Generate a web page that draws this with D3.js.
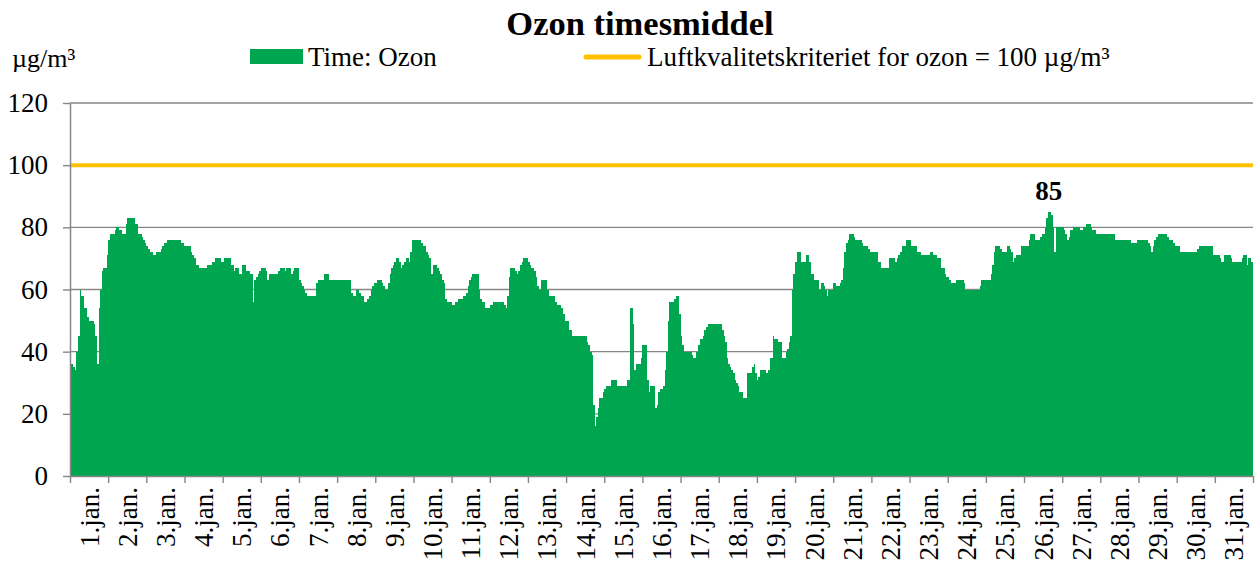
<!DOCTYPE html>
<html>
<head>
<meta charset="utf-8">
<script src="https://cdn.jsdelivr.net/npm/d3@7/dist/d3.min.js"></script>
<style>
  body { margin: 0; background: #fff; }
  text { font-family: "Liberation Serif", "Times New Roman", serif; fill: #000; }
</style>
</head>
<body>
<svg id="chart" width="1255" height="564"></svg>
<script>
// hourly ozone, one array per day (24 values, µg/m³)
const jan01 = [36,36,35,34,40,45,60,58,58,54,54,51,50,50,50,49,45,36,54,60,66,67,67,71];
const jan02 = [76,78,78,78,79,80,80,79,79,78,78,81,83,83,83,83,83,81,81,78,78,77,76,75];
const jan03 = [74,73,72,72,71,71,72,72,72,73,74,75,75,76,76,76,76,76,76,76,76,76,75,75];
const jan04 = [74,74,74,74,72,71,70,68,68,67,67,67,67,67,68,68,68,69,69,70,70,70,70,69];
const jan05 = [69,70,70,70,70,68,68,66,67,67,65,65,68,68,68,66,66,65,65,56,63,64,65,66];
const jan06 = [67,67,67,66,63,65,65,65,65,65,65,66,67,67,67,66,67,67,67,65,66,67,67,67];
const jan07 = [63,62,61,60,59,58,58,58,58,58,58,62,63,63,63,63,65,65,65,63,63,63,63,63];
const jan08 = [63,63,63,63,63,63,63,63,63,59,58,58,60,60,59,58,58,56,56,57,58,60,61,62];
const jan09 = [62,63,63,63,62,61,60,60,62,65,67,68,69,70,70,69,67,68,69,70,70,69,72,76];
const jan10 = [76,76,76,76,76,75,74,74,72,71,70,65,68,68,68,67,66,65,63,62,57,56,56,56];
const jan11 = [55,55,56,56,57,57,57,58,58,59,61,63,64,65,65,65,65,60,57,56,56,54,54,54];
const jan12 = [55,55,56,56,56,56,56,56,56,55,54,58,64,67,67,67,66,65,66,68,69,70,70,70];
const jan13 = [69,68,67,67,66,64,61,60,63,63,63,63,60,58,58,58,58,56,55,55,55,54,52,50];
const jan14 = [50,50,47,47,45,45,45,45,45,45,45,45,45,43,42,40,39,23,16,19,22,25,25,27];
const jan15 = [28,29,29,29,31,31,31,31,29,29,29,29,29,29,31,31,54,54,49,34,36,36,36,38];
const jan16 = [42,42,42,31,27,29,29,29,22,23,27,28,28,29,34,40,50,56,56,56,57,58,58,52];
const jan17 = [45,42,40,40,40,40,40,39,38,38,40,42,44,44,45,47,48,49,49,49,49,49,49,49];
const jan18 = [49,49,47,45,43,38,36,35,34,33,31,30,29,27,27,25,25,25,33,33,33,35,36,33];
const jan19 = [31,32,34,34,34,34,33,34,38,38,45,44,44,43,43,43,38,38,40,41,43,45,60,65];
const jan20 = [69,72,72,72,69,69,69,71,71,69,65,65,63,63,63,60,62,62,61,60,58,60,60,60];
const jan21 = [62,62,61,61,62,63,67,72,75,76,78,78,78,77,76,76,76,76,75,74,74,74,73,72];
const jan22 = [72,72,72,72,69,69,67,67,67,67,67,70,70,70,70,69,70,71,72,74,74,74,76,76];
const jan23 = [76,74,74,74,74,72,72,71,71,71,71,71,71,72,72,71,71,70,70,70,67,67,65,64];
const jan24 = [64,63,62,62,62,63,63,63,63,63,62,60,60,60,60,60,60,60,60,60,61,63,63,63];
const jan25 = [63,63,63,65,68,72,74,74,74,73,72,72,72,74,74,73,72,69,70,71,71,71,74,74];
const jan26 = [74,74,74,76,78,78,78,76,76,76,77,78,78,80,83,85,85,84,80,72,80,80,80,80];
const jan27 = [80,79,78,76,77,79,79,80,80,80,80,79,79,80,80,81,81,81,80,79,79,78,78,78];
const jan28 = [78,78,78,78,78,78,78,78,78,76,76,76,76,76,76,76,76,76,76,75,75,75,75,76];
const jan29 = [76,76,76,76,76,76,75,74,72,74,76,77,78,78,78,78,78,78,77,76,76,76,75,74];
const jan30 = [74,74,72,72,72,72,72,72,72,72,72,72,72,73,74,74,74,74,74,74,74,74,74,71];
const jan31 = [71,71,71,70,69,69,71,71,71,71,70,69,69,69,69,69,69,70,71,71,68,70,70,69];

const dayLabels = d3.range(1, 32).map(d => d + ".jan.");
const yTicks = [0, 20, 40, 60, 80, 100, 120];
const limitValue = 100;

const titleText = "Ozon timesmiddel";
const unitText = "µg/m³";
const seriesName = "Time: Ozon";
const limitName = "Luftkvalitetskriteriet for ozon = 100 µg/m³";

const hourly = [].concat(jan01, jan02, jan03, jan04, jan05, jan06, jan07, jan08, jan09, jan10,
  jan11, jan12, jan13, jan14, jan15, jan16, jan17, jan18, jan19, jan20, jan21, jan22, jan23,
  jan24, jan25, jan26, jan27, jan28, jan29, jan30, jan31);

const green = "#00a54f";
const orange = "#ffc000";
const gridGray = "#868686";

const margin = { top: 103, right: 2, bottom: 88, left: 70 };
const width = 1255, height = 564;
const plotW = width - margin.left - margin.right;
const plotH = height - margin.top - margin.bottom;

const svg = d3.select("#chart");
const figure = svg.append("g")
  .attr("transform", `translate(${margin.left},${margin.top})`);

// scales
const x = d3.scaleBand().domain(d3.range(hourly.length)).range([0, plotW]).padding(0);
const xDay = d3.scaleBand().domain(dayLabels).range([0, plotW]).padding(0);
const xEdge = d3.scaleLinear().domain([0, dayLabels.length]).range([0, plotW]);
const y = d3.scaleLinear().domain([0, 120]).range([plotH, 0]);

// gridlines (behind the bars)
figure.append("g")
  .selectAll("line")
  .data(yTicks.filter(t => t > 0))
  .enter().append("line")
  .attr("x1", 0).attr("x2", plotW)
  .attr("y1", d => y(d)).attr("y2", d => y(d))
  .attr("stroke", gridGray)
  .attr("stroke-width", 1.4);

// hourly bars, crisp so neighbours tile without seams
figure.append("g")
  .attr("shape-rendering", "crispEdges")
  .selectAll("rect")
  .data(hourly)
  .enter().append("rect")
  .attr("x", (d, i) => x(i))
  .attr("width", x.bandwidth())
  .attr("y", d => y(d))
  .attr("height", d => y(0) - y(d))
  .attr("fill", green);

// limit line
figure.append("line")
  .attr("x1", 0).attr("x2", plotW)
  .attr("y1", y(limitValue)).attr("y2", y(limitValue))
  .attr("stroke", orange)
  .attr("stroke-width", 4);

// y axis
const yAxis = d3.axisLeft(y).tickValues(yTicks).tickSize(7).tickSizeOuter(0).tickPadding(15);
const gy = figure.append("g").call(yAxis);
gy.select(".domain").attr("stroke", gridGray).attr("stroke-width", 1.5);
gy.selectAll(".tick line").attr("stroke", gridGray).attr("stroke-width", 1.4);
gy.selectAll(".tick text")
  .style("font-family", "Liberation Serif")
  .style("font-size", "27px")
  .attr("fill", "#000");

// x axis: ticks at day boundaries
const xAxis = d3.axisBottom(xEdge).tickValues(d3.range(dayLabels.length + 1))
  .tickSize(7).tickSizeOuter(0).tickFormat("");
const gx = figure.append("g").attr("transform", `translate(0,${plotH})`).call(xAxis);
gx.select(".domain").attr("stroke", gridGray).attr("stroke-width", 1.5);
gx.selectAll(".tick line").attr("stroke", gridGray).attr("stroke-width", 1.4);

// day labels, rotated
figure.append("g")
  .selectAll("text")
  .data(dayLabels)
  .enter().append("text")
  .attr("transform", d => `translate(${xDay(d) + xDay.bandwidth() / 2},${plotH + 11}) rotate(-90)`)
  .attr("dy", "0.35em")
  .attr("text-anchor", "end")
  .style("font-size", "27px")
  .text(d => d);

// label on the highest hour
const iMax = d3.maxIndex(hourly);
figure.append("text")
  .attr("x", x(iMax) + x.bandwidth() / 2)
  .attr("y", y(hourly[iMax]) - 12)
  .attr("text-anchor", "middle")
  .style("font-size", "27px")
  .style("font-weight", "bold")
  .text(hourly[iMax]);

// title, unit and legend
svg.append("text")
  .attr("x", 640).attr("y", 35)
  .attr("text-anchor", "middle")
  .style("font-size", "34.5px")
  .style("font-weight", "bold")
  .text(titleText);

svg.append("text")
  .attr("x", 12).attr("y", 67)
  .style("font-size", "26px")
  .text(unitText);

const legend = svg.append("g");
legend.append("rect")
  .attr("x", 250).attr("y", 49).attr("width", 53).attr("height", 15)
  .attr("fill", green);
legend.append("text")
  .attr("x", 308).attr("y", 66)
  .style("font-size", "27px")
  .text(seriesName);
legend.append("line")
  .attr("x1", 586).attr("x2", 639).attr("y1", 57).attr("y2", 57)
  .attr("stroke", orange).attr("stroke-width", 5).attr("stroke-linecap", "round");
legend.append("text")
  .attr("x", 647).attr("y", 66)
  .style("font-size", "27px")
  .text(limitName);
</script>
</body>
</html>
